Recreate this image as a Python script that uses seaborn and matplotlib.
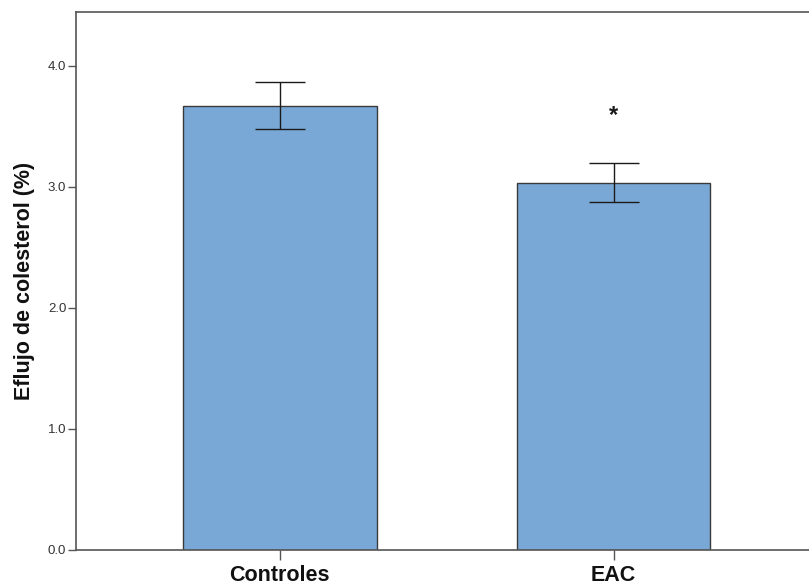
import matplotlib
matplotlib.use("Agg")
import matplotlib.pyplot as plt
import pandas as pd
import seaborn as sns

# values (SPSS-style mean +/- error bar chart)
groups = ["Controles", "EAC"]
means = [3.672, 3.036]
errors = [0.194, 0.158]
star_y = 3.59

sns.set_theme(style="white")
plt.rcParams["font.family"] = ["Liberation Sans", "DejaVu Sans"]

df = pd.DataFrame({"grupo": groups, "eflujo": means})

fig = plt.figure(figsize=(8.09, 5.86), dpi=100)
ax = fig.add_axes([76 / 809, 36 / 586, 1 - 76 / 809, (550 - 11.5) / 586])

sns.barplot(data=df, x="grupo", y="eflujo", order=groups, color="#79A8D6",
            saturation=1, width=0.58, errorbar=None, edgecolor="#3a3a3a",
            linewidth=1.0, ax=ax)
ax.errorbar(range(len(groups)), means, yerr=errors, fmt="none",
            ecolor="#1a1a1a", elinewidth=1.0, capsize=18, capthick=1.0)
ax.text(1, star_y, "*", ha="center", va="center", fontsize=17,
        fontweight="bold", color="#1a1a1a")

ax.set_xlim(-0.61, 1.585)
ax.set_ylim(0, 4.45)
ax.set_yticks([0, 1, 2, 3, 4])
ax.set_yticklabels([f"{v:.1f}" for v in [0, 1, 2, 3, 4]])
ax.set_xlabel("")
ax.set_ylabel("Eflujo de colesterol (%)", fontsize=15.5, fontweight="bold",
              color="#111111", labelpad=9)

for side in ["left", "bottom", "top"]:
    ax.spines[side].set_color("#555555")
    ax.spines[side].set_linewidth(1.2)
ax.spines["right"].set_visible(False)

ax.tick_params(axis="y", which="major", direction="out", length=6, width=1,
               color="#555555", labelsize=9.5, labelcolor="#333333", pad=1, left=True)
ax.tick_params(axis="x", which="major", direction="out", length=7, width=1,
               color="#555555", labelsize=15.5, labelcolor="#111111", pad=4, bottom=True)
for lab in ax.get_xticklabels():
    lab.set_fontweight("bold")

fig.savefig("out.png", dpi=100)
